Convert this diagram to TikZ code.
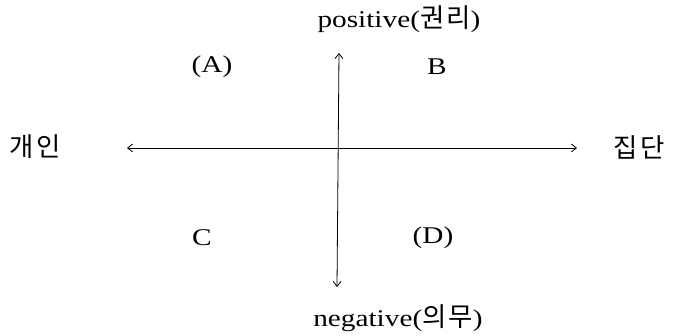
\documentclass[tikz,border=0pt]{standalone}
\usepackage{fontspec}
\setmainfont{Liberation Serif}[FakeStretch=1.22]
\newfontfamily\kr{Noto Sans CJK KR}[Scale=1.1,LetterSpace=8]
\usetikzlibrary{arrows.meta}
\tikzset{
  lbl/.style={inner sep=0pt, font=\fontsize{24}{27}\selectfont},
  axis/.style={line width=0.8pt, {Straight Barb[length=5pt,width=8pt]}-{Straight Barb[length=5pt,width=8pt]}}
}
\begin{document}
\begin{tikzpicture}[x=1pt,y=-1pt]
\useasboundingbox (0,0) rectangle (673,336);
\coordinate (top) at (339,53);
\coordinate (bot) at (337,287);
\coordinate (lft) at (127,148);
\coordinate (rgt) at (577,148);
\draw[axis] (top) -- (bot);
\draw[axis] (lft) -- (rgt);
\node[lbl] (pos) at (399,19) {positive({\kr 권리})};
\node[lbl] (neg) at (398,318) {negative({\kr 의무})};
\node[lbl] (ind) at (35,147) {\kr 개인};
\node[lbl] (grp) at (639,147) {\kr 집단};
\node[lbl] (qa) at (212,67) {(A)};
\node[lbl] (qb) at (437,67) {B};
\node[lbl] (qc) at (202,238) {C};
\node[lbl] (qd) at (433,238) {(D)};
\end{tikzpicture}
\end{document}
